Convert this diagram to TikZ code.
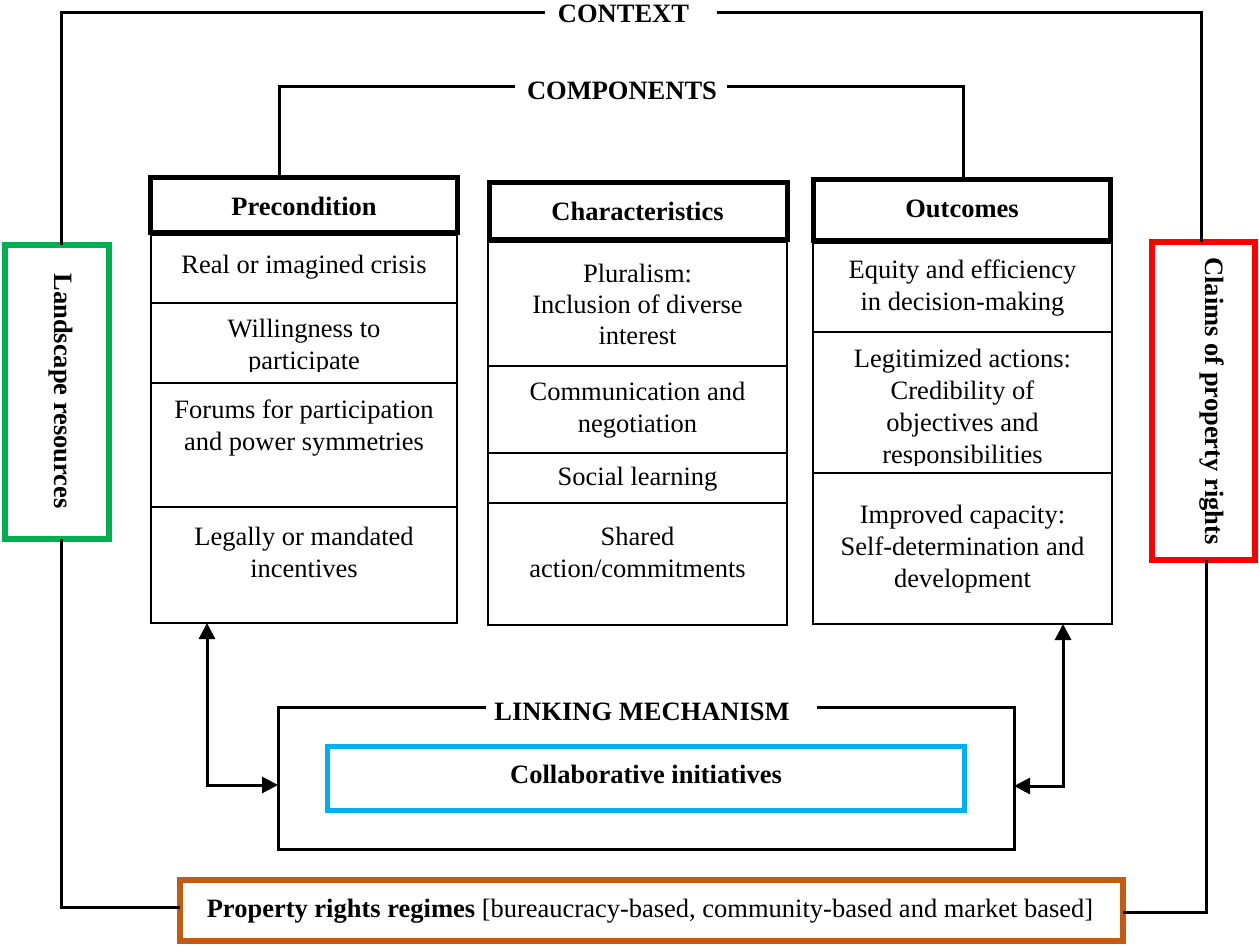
\documentclass[tikz,border=0pt]{standalone}
\usepackage{fontspec}
\setmainfont{Liberation Serif}
\usetikzlibrary{arrows.meta}
\definecolor{lgreen}{HTML}{00B050}
\definecolor{lred}{HTML}{FF0000}
\definecolor{lorange}{HTML}{C55A11}
\definecolor{lblue}{HTML}{00B0F0}
\begin{document}
\begin{tikzpicture}[x=1pt,y=-1pt,
  txtfont/.style={font=\fontsize{26.5}{32}\selectfont},
  hdr/.style={draw, line width=5pt, inner sep=0pt, outer sep=0pt},
  cellbox/.style={draw, line width=2.5pt, inner sep=0pt, outer sep=0pt},
  celltxt/.style={txtfont, align=center, inner sep=0pt, anchor=base},
  boldtxt/.style={font=\fontsize{26.5}{32}\selectfont\bfseries, inner sep=0pt, anchor=base},
  sidebox/.style={draw, line width=6pt, inner sep=0pt, outer sep=0pt},
  sidetxt/.style={font=\fontsize{26.5}{32}\selectfont\bfseries, inner sep=0pt, rotate=-90},
  conn/.style={line width=3pt},
  biarrow/.style={line width=3pt, {Triangle[length=16pt,width=16pt]}-{Triangle[length=16pt,width=16pt]}}
]
\useasboundingbox (0,0) rectangle (1259,947);

% ---------- Precondition column ----------
% (multi-line texts are placed by the baseline of their last line)
\node[cellbox, minimum width=306, minimum height=68]  (p1) at (304,269) {};
\node[cellbox, minimum width=306, minimum height=80]  (p2) at (304,343) {};
\node[cellbox, minimum width=306, minimum height=124] (p3) at (304,445) {};
\node[cellbox, minimum width=306, minimum height=116] (p4) at (304,565) {};
\node[hdr, fill=white, minimum width=307, minimum height=55] (pre) at (304,205) {};
\node[boldtxt] (pret) at (304,215) {Precondition};
\node[celltxt] (p1t) at (304,273) {Real or imagined crisis};
\begin{scope}
  \clip (151,303) rectangle (457,371);
  \node[celltxt] (p2t) at (304,369) {Willingness to\\participate};
\end{scope}
\node[celltxt] (p3t) at (304,450) {Forums for participation\\and power symmetries};
\node[celltxt] (p4t) at (304,577) {Legally or mandated\\incentives};

% ---------- Characteristics column ----------
\node[cellbox, minimum width=299, minimum height=124] (c1) at (637.5,304) {};
\node[cellbox, minimum width=299, minimum height=87]  (c2) at (637.5,409.5) {};
\node[cellbox, minimum width=299, minimum height=50]  (c3) at (637.5,478) {};
\node[cellbox, minimum width=299, minimum height=122] (c4) at (637.5,564) {};
\node[hdr, fill=white, minimum width=298, minimum height=57] (cha) at (638.5,211) {};
\node[boldtxt] (chat) at (637.5,220) {Characteristics};
\node[celltxt, font=\fontsize{26.5}{31}\selectfont] (c1t) at (637.5,344) {Pluralism:\\Inclusion of diverse\\interest};
\node[celltxt] (c2t) at (637.5,432) {Communication and\\negotiation};
\node[celltxt] (c3t) at (637.5,485) {Social learning};
\node[celltxt] (c4t) at (637.5,577) {Shared\\action/commitments};

% ---------- Outcomes column ----------
\node[cellbox, minimum width=299, minimum height=89]  (o1) at (962.5,287.5) {};
\node[cellbox, minimum width=299, minimum height=141] (o2) at (962.5,402.5) {};
\node[cellbox, minimum width=299, minimum height=151] (o3) at (962.5,548.5) {};
\node[hdr, fill=white, minimum width=297, minimum height=61] (out) at (962,210) {};
\node[boldtxt] (outt) at (962,217) {Outcomes};
\node[celltxt] (o1t) at (962.5,310) {Equity and efficiency\\in decision-making};
\begin{scope}
  \clip (813,332) rectangle (1112,465.5);
  \node[celltxt] (o2t) at (962.5,463) {Legitimized actions:\\Credibility of\\objectives and\\responsibilities};
\end{scope}
\node[celltxt] (o3t) at (962.5,587) {Improved capacity:\\Self-determination and\\development};

% ---------- Context frame ----------
\node[boldtxt] (ctx) at (623.5,23) {CONTEXT};
\coordinate (ctxL) at (545,13);
\coordinate (ctxR) at (717,13);
\node[sidebox, draw=lgreen, minimum width=104, minimum height=294] (land) at (57,392) {};
\node[sidetxt] (landt) at (61,391) {Landscape resources};
\node[sidebox, draw=lred, minimum width=103, minimum height=318] (claim) at (1203.5,401) {};
\node[sidetxt] (claimt) at (1212,401) {Claims of property rights};
\node[sidebox, draw=lorange, minimum width=943, minimum height=61] (prop) at (651.5,910.5) {};
\node[txtfont, inner sep=0pt, anchor=base] (propt) at (650,917) {\textbf{Property rights regimes} [bureaucracy-based, community-based and market based]};

\draw[conn] (ctxL) -| ([xshift=4pt]land.north);
\draw[conn] (ctxR) -| ([xshift=-2.5pt]claim.north);
\draw[conn] ([xshift=4pt]land.south) |- ([yshift=3.5pt]prop.west);
\draw[conn] ([xshift=2.5pt]claim.south) |- ([yshift=-1.5pt]prop.east);

% ---------- Components bracket ----------
\node[boldtxt] (cmp) at (622,100) {COMPONENTS};
\coordinate (cmpL) at (515,87);
\coordinate (cmpR) at (727,87);
\draw[conn] (cmpL) -| ([xshift=-25pt]pre.north);
\draw[conn] (cmpR) -| ([xshift=1pt]out.north);

% ---------- Linking mechanism ----------
\node[inner sep=0pt, outer sep=0pt, minimum width=736, minimum height=142] (link) at (646,778) {};
\node[boldtxt] (linkt) at (642,720) {LINKING MECHANISM};
\coordinate (lkL) at (486,707);
\coordinate (lkR) at (817,707);
\draw[conn] (lkL) -- (link.north west) -- (link.south west) -- (link.south east) -- (link.north east) -- (lkR);
\node[draw=lblue, line width=5pt, inner sep=0pt, outer sep=0pt, minimum width=637, minimum height=64] (collab) at (646,778.5) {};
\node[boldtxt] (collabt) at (646,783) {Collaborative initiatives};

\draw[biarrow] ([xshift=-97pt]p4.south) |- ([yshift=-7pt]link.west);
\draw[biarrow] ([xshift=100.5pt]o3.south) |- ([yshift=-8pt]link.east);
\end{tikzpicture}
\end{document}
